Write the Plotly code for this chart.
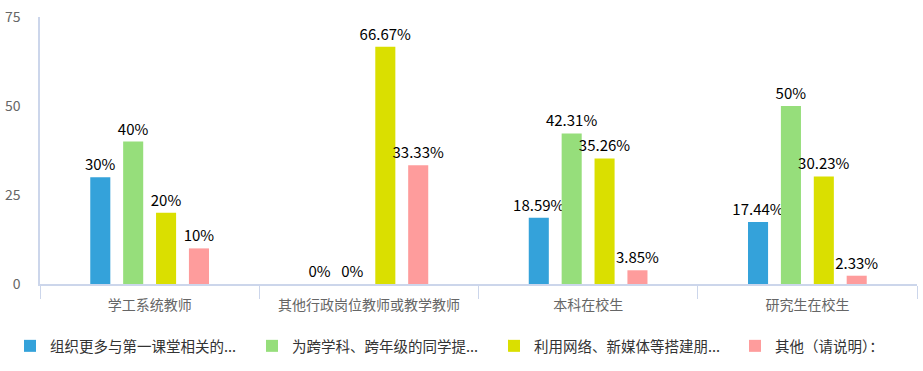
import plotly.graph_objects as go

categories = ["学工系统教师", "其他行政岗位教师或教学教师", "本科在校生", "研究生在校生"]
series_names = ["组织更多与第一课堂相关的...", "为跨学科、跨年级的同学提...", "利用网络、新媒体等搭建朋...", "其他（请说明）："]
s1 = [30, 0, 18.59, 17.44]
s2 = [40, 0, 42.31, 50]
s3 = [20, 66.67, 35.26, 30.23]
s4 = [10, 33.33, 3.85, 2.33]
colors = ["#34a2da", "#96de7b", "#dadf00", "#fe9c9c"]
y_ticks = [0, 25, 50, 75]

font_family = "Noto Sans CJK SC, Microsoft YaHei, sans-serif"
legend_ids = ["legend", "legend", "legend", "legend2"]

fig = go.Figure()
for name, vals, col, lg in zip(series_names, [s1, s2, s3, s4], colors, legend_ids):
    fig.add_trace(go.Bar(
        x=categories, y=vals, name=name, legend=lg,
        marker=dict(color=col, line=dict(width=0)),
        text=[f"{v:g}%" for v in vals],
        textposition="outside",
        constraintext="none",
        textfont=dict(size=15, color="#000000", family=font_family),
        cliponaxis=False,
    ))

legend_common = dict(
    orientation="h", xanchor="left", y=-0.172, yanchor="top",
    font=dict(size=14.5, color="#333333"),
    traceorder="normal", bgcolor="rgba(0,0,0,0)",
)

fig.update_layout(
    width=923, height=371,
    margin=dict(l=40, r=6, t=17, b=87, autoexpand=False),
    paper_bgcolor="white", plot_bgcolor="white",
    barmode="group", bargap=0.4, bargroupgap=0.39,
    font=dict(family=font_family, color="#666666", size=13),
    showlegend=True,
    legend=dict(x=-0.0342, entrywidth=197, entrywidthmode="pixels", **legend_common),
    legend2=dict(x=0.7925, **legend_common),
    uniformtext=dict(mode=False),
)
fig.update_xaxes(
    showline=True, linecolor="#ccd6eb", linewidth=1.5,
    ticks="outside", tickson="boundaries", ticklen=13, tickcolor="#ccd6eb",
    ticklabelstandoff=7,
    showgrid=False, tickfont=dict(size=14, color="#666666"), automargin=False,
)
fig.update_yaxes(
    range=[0, 75], tickvals=y_ticks, showgrid=False, zeroline=False,
    showline=True, linecolor="#ccd6eb", linewidth=1.5,
    ticks="outside", ticklen=15, tickcolor="rgba(0,0,0,0)",
    tickfont=dict(size=14, color="#666666"), automargin=False,
)

fig.write_html("out.html", config={"displayModeBar": False},
               post_script="document.body.style.margin='0';")
